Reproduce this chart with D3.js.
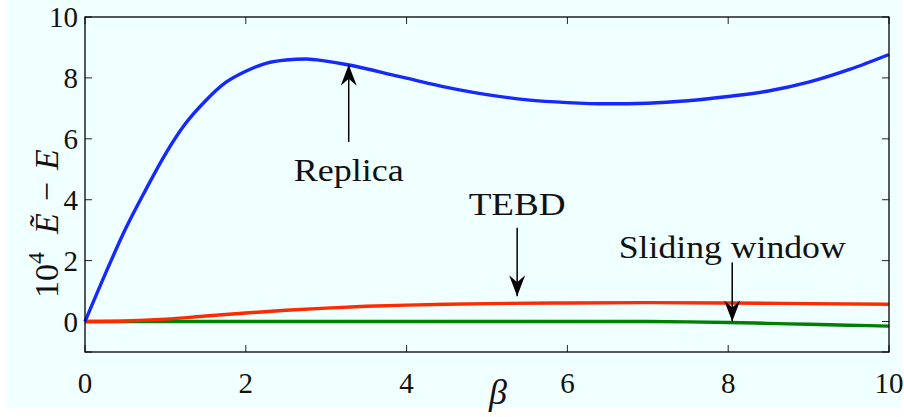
<!DOCTYPE html>
<html><head><meta charset="utf-8">
<script src="https://cdn.jsdelivr.net/npm/d3@7/dist/d3.min.js"></script>
</head><body style="margin:0"><svg id="c" width="904" height="417" font-family="Liberation Serif" style="display:block;font-family:'Liberation Serif'"></svg>
<script>
const replicaBeta = [0,0.25,0.5,0.75,1,1.25,1.5,1.75,2,2.25,2.5,2.75,3,3.25,3.5,3.75,4,4.5,5,5.5,6,6.5,7,7.5,8,8.5,9,9.5,10];
const replicaVal  = [0,1.55,3.02,4.3,5.5,6.5,7.25,7.85,8.22,8.48,8.59,8.62,8.55,8.44,8.3,8.14,7.99,7.69,7.45,7.28,7.19,7.15,7.17,7.25,7.39,7.57,7.86,8.27,8.77];
const tebdBeta = [0,0.5,1,1.5,2,2.5,3,3.5,4,4.5,5,6,7,8,9,10];
const tebdVal  = [0,0.02,0.08,0.18,0.28,0.37,0.44,0.5,0.54,0.57,0.59,0.61,0.62,0.61,0.59,0.57];
const swBeta = [0,1,2,3,4,5,6,7,7.5,8,8.5,9,9.5,10];
const swVal  = [0,0,0,0,0,0,0,0,-0.01,-0.03,-0.06,-0.09,-0.12,-0.15];
const xTicks = [0,2,4,6,8,10];
const yTicks = [0,2,4,6,8,10];
const annotations = [
  {text:"Replica", beta:3.28, tip:8.43, tail:5.9, label:4.6, dir:"up", w:110},
  {text:"TEBD", beta:5.375, tip:0.83, tail:3.08, label:3.5, dir:"down", w:97},
  {text:"Sliding window", beta:8.05, tip:0.0, tail:1.94, label:2.1, dir:"down", w:227}
];

const svg = d3.select("#c");
const L=85, R=889, T=17, B=352;
const x = d3.scaleLinear().domain([0,10]).range([L,R]);
const y = d3.scaleLinear().domain([-1,10]).range([B,T]);
const addText = (sel, size)=>sel.append("text")
  .attr("font-family","Liberation Serif")
  .style("font-family", `"Liberation Serif"`)
  .attr("font-size",size).attr("fill","#111");

svg.append("rect").attr("x",7).attr("y",0).attr("width",895).attr("height",408).attr("fill","#F0FFFF");

const tk = 7;
const g = svg.append("g").attr("stroke","#222").attr("stroke-width",1);
xTicks.forEach(v=>{
  g.append("line").attr("x1",x(v)).attr("x2",x(v)).attr("y1",B).attr("y2",B-tk);
  g.append("line").attr("x1",x(v)).attr("x2",x(v)).attr("y1",T).attr("y2",T+tk);
});
yTicks.concat([-1]).forEach(v=>{
  g.append("line").attr("x1",L).attr("x2",L+tk).attr("y1",y(v)).attr("y2",y(v));
  g.append("line").attr("x1",R).attr("x2",R-tk).attr("y1",y(v)).attr("y2",y(v));
});

const line = d3.line().x(d=>x(d[0])).y(d=>y(d[1])).curve(d3.curveMonotoneX);
const series = [
  {b:swBeta, v:swVal, c:"#008000"},
  {b:tebdBeta, v:tebdVal, c:"#ff2a00"},
  {b:replicaBeta, v:replicaVal, c:"#1428ff"}
];
series.forEach(s=>{
  svg.append("path").datum(s.b.map((b,i)=>[b,s.v[i]]))
    .attr("d",line).attr("fill","none").attr("stroke",s.c).attr("stroke-width",3.4);
});

svg.append("rect").attr("x",L).attr("y",T).attr("width",R-L).attr("height",B-T)
  .attr("fill","none").attr("stroke","#000").attr("stroke-width",1.3);

xTicks.forEach(v=>{
  addText(svg,29).attr("x",x(v)).attr("y",393).attr("text-anchor","middle").text(String(v));
});
yTicks.forEach(v=>{
  addText(svg,29).attr("x",78).attr("y",y(v)+10).attr("text-anchor","end").text(String(v));
});

addText(svg,36).attr("x",498).attr("y",404).attr("text-anchor","middle")
  .attr("font-style","italic").text("β");

const yl = addText(svg,34).attr("transform","translate(58,298) rotate(-90)");
yl.append("tspan").text("10");
yl.append("tspan").attr("dy",-14).attr("font-size",24).text("4");
yl.append("tspan").attr("dy",14).attr("dx",18).attr("font-style","italic").text("Ẽ");
yl.append("tspan").attr("dx",12).text("−");
yl.append("tspan").attr("dx",12).attr("font-style","italic").text("E");

annotations.forEach(a=>{
  const px = x(a.beta), ytip = y(a.tip), ytail = y(a.tail);
  svg.append("line").attr("x1",px).attr("x2",px).attr("y1",ytail).attr("y2",ytip)
    .attr("stroke","#000").attr("stroke-width",1.5);
  const s = a.dir==="up" ? 1 : -1;
  const hl=21, hw=8, notch=14;
  svg.append("path").attr("d",
    `M${px},${ytip} L${px-hw},${ytip+s*hl} L${px},${ytip+s*notch} L${px+hw},${ytip+s*hl} Z`)
    .attr("fill","#000");
  addText(svg,32).attr("x",px).attr("y",y(a.label)).attr("text-anchor","middle")
    .attr("textLength",a.w).attr("lengthAdjust","spacingAndGlyphs").text(a.text);
});
</script></body></html>
